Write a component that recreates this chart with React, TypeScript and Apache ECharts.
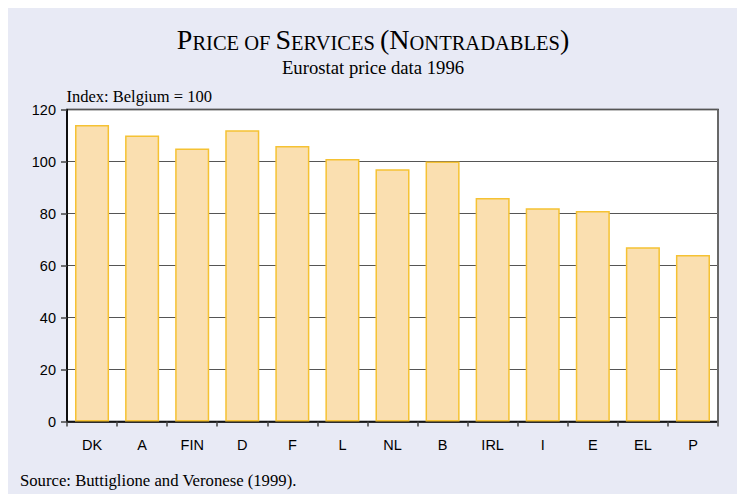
import React, { useEffect, useRef } from "react";
import * as echarts from "echarts";

const categories = ["DK", "A", "FIN", "D", "F", "L", "NL", "B", "IRL", "I", "E", "EL", "P"];
const priceIndex = [114, 110, 105, 112, 106, 101, 97, 100, 86, 82, 81, 67, 64];
const yTicks = { min: 0, max: 120, interval: 20 };

const titleText = "{b|P}{s|RICE OF }{b|S}{s|ERVICES }{b|(N}{s|ONTRADABLES}{b|)}";
const subtitleText = "Eurostat price data 1996";
const unitText = "Index: Belgium = 100";
const sourceText = "Source: Buttiglione and Veronese (1999).";

const SERIF = "'Liberation Serif', 'Times New Roman', serif";
const SANS = "'Liberation Sans', Arial, sans-serif";

export default function App() {
  const ref = useRef<HTMLDivElement>(null);
  useEffect(() => {
    document.documentElement.style.overflow = "hidden";
    const chart = echarts.init(ref.current!, null, { renderer: "svg" });
    chart.setOption({
      animation: false,
      backgroundColor: "#e8eaf5",
      grid: {
        left: 59,
        top: 101.5,
        width: 651,
        height: 312,
        show: true,
        backgroundColor: "#ffffff",
        borderColor: "#000000",
        borderWidth: 1.5,
      },
      xAxis: {
        type: "category",
        data: categories,
        axisLine: { lineStyle: { color: "#000", width: 1.5 } },
        axisTick: { show: true, inside: false, length: 5, lineStyle: { color: "#444", width: 1.5 } },
        axisLabel: { color: "#000", fontFamily: SANS, fontSize: 14.5, margin: 16 },
        splitLine: { show: false },
      },
      yAxis: {
        type: "value",
        min: yTicks.min,
        max: yTicks.max,
        interval: yTicks.interval,
        axisLine: { show: true, lineStyle: { color: "#000", width: 1.5 } },
        axisTick: { show: true, inside: false, length: 6, lineStyle: { color: "#444", width: 1.5 } },
        axisLabel: { color: "#000", fontFamily: SANS, fontSize: 14.5, margin: 11 },
        splitLine: { show: true, lineStyle: { color: "#555", width: 1.2 } },
      },
      series: [
        {
          type: "bar",
          data: priceIndex,
          barCategoryGap: "32%",
          itemStyle: { color: "#fadfb0", borderColor: "#f5c233", borderWidth: 1.5 },
        },
      ],
      graphic: [
        {
          type: "line",
          shape: { x1: 710, y1: 101.5, x2: 710, y2: 418 },
          style: { stroke: "#777", lineWidth: 1.5 },
          z: 100,
        },
        {
          type: "text",
          x: 365,
          y: 45,
          style: {
            text: titleText,
            align: "center",
            verticalAlign: "bottom",
            fill: "#000",
            rich: {
              b: { fontFamily: SERIF, fontSize: 28, fill: "#000", verticalAlign: "bottom", lineHeight: 28 },
              s: { fontFamily: SERIF, fontSize: 20.5, fill: "#000", verticalAlign: "bottom", lineHeight: 23 },
            },
          },
        },
        {
          type: "text",
          x: 365,
          y: 59,
          style: {
            text: subtitleText,
            align: "center",
            verticalAlign: "middle",
            fontFamily: SERIF,
            fontSize: 18.7,
            fill: "#000",
          },
        },
        {
          type: "text",
          x: 58.5,
          y: 88,
          style: {
            text: unitText,
            align: "left",
            verticalAlign: "middle",
            fontFamily: SERIF,
            fontSize: 16.5,
            fill: "#000",
          },
        },
        {
          type: "text",
          x: 12,
          y: 472.3,
          style: {
            text: sourceText,
            align: "left",
            verticalAlign: "middle",
            fontFamily: SERIF,
            fontSize: 16.7,
            fill: "#000",
          },
        },
      ],
    });
    return () => chart.dispose();
  }, []);
  return <div ref={ref} style={{ width: 737, height: 486 }} />;
}
